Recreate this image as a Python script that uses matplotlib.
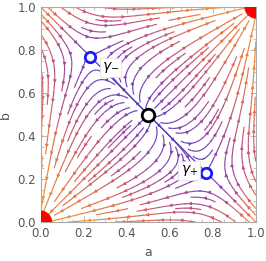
import numpy as np
import matplotlib.pyplot as plt
from matplotlib.colors import LinearSegmentedColormap
from matplotlib.patches import Circle, FancyArrowPatch

# fixed points of the flow
stable_pts = np.array([[0.0, 0.0], [1.0, 1.0]])
gamma_pts = np.array([[0.23, 0.77], [0.77, 0.23]])
centre_pt = np.array([0.5, 0.5])
gamma_labels = [r'$\gamma_{-}$', r'$\gamma_{+}$']
gamma_label_pos = [[0.325, 0.72], [0.69, 0.24]]
ticks = [0.0, 0.2, 0.4, 0.6, 0.8, 1.0]

# field: u = a+b-1 pushes to a corner, w = a-b settles on the gamma points
c = gamma_pts[1, 0] - gamma_pts[1, 1]
k = 1.3

grid = np.linspace(0, 1, 201)
A, B = np.meshgrid(grid, grid)
U = A + B - 1
W = A - B
dU = U
dW = (-np.abs(U) * W / (1.02 - np.abs(U))
      + k * W * (c**2 - W**2) * np.exp(-(U / 0.5)**2))
dA = (dU + dW) / 2
dB = (dU - dW) / 2
speed = np.hypot(dA, dB)

cmap = LinearSegmentedColormap.from_list(
    "stream", ["#3b2fc4", "#7a3fb8", "#b34d8c", "#e3704a", "#f39a2c"])

fig = plt.figure(figsize=(2.66, 2.61), dpi=100)
ax = fig.add_axes([0.153, 0.149, 0.809, 0.824])

sp = ax.streamplot(A, B, dA, dB, color=speed**0.55, cmap=cmap, density=1.1,
                   linewidth=0.85, arrowstyle="-")

# several small heads along every streamline
segs = sp.lines.get_segments()
rgba = sp.lines.to_rgba(sp.lines.get_array())
streams, cur, ccur = [], [], []
for s, col in zip(segs, rgba):
    if cur and np.allclose(s[0], cur[-1]):
        cur.append(s[1])
        ccur.append(col)
    else:
        if cur:
            streams.append((np.array(cur), ccur))
        cur, ccur = [s[0], s[1]], [col]
streams.append((np.array(cur), ccur))

step = 0.095
for pts, cols in streams:
    d = np.hypot(*np.diff(pts, axis=0).T)
    s_cum = np.concatenate([[0], np.cumsum(d)])
    for target in np.arange(step / 2, s_cum[-1] - 0.02, step):
        i = min(np.searchsorted(s_cum, target), len(pts) - 2)
        p0, p1 = pts[i], pts[i + 1]
        if np.hypot(*(p1 - p0)) < 1e-6:
            continue
        ax.add_patch(FancyArrowPatch(p0, p0 + (p1 - p0) * 1e-3 / np.hypot(*(p1 - p0)),
                                     arrowstyle="-|>", mutation_scale=7,
                                     color=cols[min(i, len(cols) - 1)], lw=0,
                                     shrinkA=0, shrinkB=0, zorder=2))

# separatrix between the gamma points
ax.plot([gamma_pts[0, 0], centre_pt[0], gamma_pts[1, 0]],
        [gamma_pts[0, 1], centre_pt[1], gamma_pts[1, 1]],
        color="#4a3dc0", lw=0.9, zorder=3)

for p in stable_pts:
    ax.add_patch(Circle(p, 0.05, color="red", zorder=5, clip_on=True))

ax.plot(gamma_pts[:, 0], gamma_pts[:, 1], "o", ms=7.5, mfc="white",
        mec="#1a1aff", mew=2, zorder=6)
ax.plot(centre_pt[0], centre_pt[1], "o", ms=9, mfc="white",
        mec="black", mew=2, zorder=6)

for lab, pos in zip(gamma_labels, gamma_label_pos):
    ax.text(pos[0], pos[1], lab, fontsize=10, ha="center", va="center",
            zorder=7,
            bbox=dict(boxstyle="square,pad=0.15", fc="white", ec="#e0e0e0", lw=0.5))

ax.set_xlim(0, 1)
ax.set_ylim(0, 1)
ax.set_xticks(ticks)
ax.set_yticks(ticks)
ax.set_xticks(np.arange(0, 1.001, 0.05), minor=True)
ax.set_yticks(np.arange(0, 1.001, 0.05), minor=True)
ax.tick_params(which="both", direction="in", top=True, right=True,
               color="#aaaaaa", labelcolor="#555555", labelsize=8.5)
ax.tick_params(which="major", length=4, width=0.6)
ax.tick_params(which="minor", length=2, width=0.5)
ax.set_xticklabels([f"{t:.1f}" for t in ticks])
ax.set_yticklabels([f"{t:.1f}" for t in ticks])
for s in ax.spines.values():
    s.set_color("#aaaaaa")
    s.set_linewidth(0.8)

ax.set_xlabel("a", color="#555555", fontsize=9)
ax.set_ylabel("b", color="#555555", fontsize=9)

fig.savefig("out.png", dpi=100)
